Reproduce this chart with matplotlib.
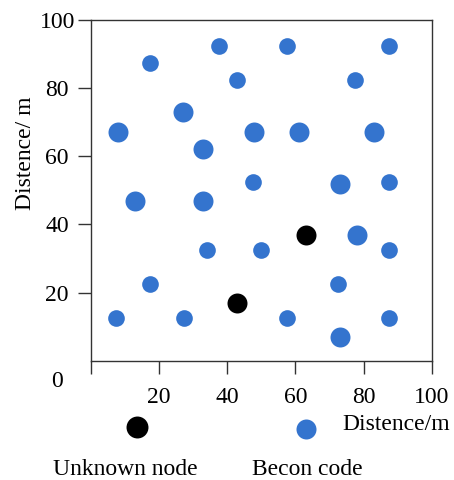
import matplotlib
matplotlib.use("Agg")
import matplotlib.pyplot as plt
from matplotlib.lines import Line2D

plt.rcParams['font.family'] = ['Liberation Serif', 'DejaVu Serif']
plt.rcParams['font.size'] = 17

# 信标节点（小）
beacon_small_x = [37.5, 57.5, 87.5, 17.5, 43, 77.5, 47.5, 87.5, 34, 50, 87.5, 17.5, 72.5, 7.5, 27.5, 57.5, 87.5]
beacon_small_y = [92.5, 92.5, 92.5, 87.5, 82.5, 82.5, 52.5, 52.5, 32.5, 32.5, 32.5, 22.5, 22.5, 12.5, 12.5, 12.5, 12.5]
# 信标节点（大）
beacon_large_x = [27, 8, 48, 61, 83, 33, 73, 13, 33, 78, 73]
beacon_large_y = [73, 67, 67, 67, 67, 62, 52, 47, 47, 37, 7]
# 未知节点
unknown_x = [63, 43]
unknown_y = [37, 17]

x_ticks = [0, 20, 40, 60, 80, 100]
y_ticks = [20, 40, 60, 80, 100]

blue = "#3474CE"
axis_color = "#333333"

fig = plt.figure(figsize=(4.54, 4.8), dpi=100)
ax = fig.add_axes([0.1998, 0.2485, 0.7511, 0.7098])

ax.scatter(beacon_small_x, beacon_small_y, s=144, color=blue, linewidths=0, zorder=3)
ax.scatter(beacon_large_x, beacon_large_y, s=207, color=blue, linewidths=0, zorder=3)
ax.scatter(unknown_x, unknown_y, s=207, color="black", linewidths=0, zorder=3)

ax.set_xlim(0, 100)
ax.set_ylim(0, 100)

# 軸の設定
for sp in ax.spines.values():
    sp.set_color(axis_color)
    sp.set_linewidth(1.0)

ax.set_xticks(x_ticks)
ax.set_xticklabels(["" if t == 0 else str(t) for t in x_ticks])
ax.set_yticks(y_ticks)
ax.set_yticklabels([str(t) for t in y_ticks])
ax.tick_params(axis='x', direction='out', length=9, width=1.0, color=axis_color, pad=10)
ax.tick_params(axis='y', direction='out', length=9.5, width=1.0, color=axis_color, pad=14.6)
for lab in ax.get_yticklabels():
    lab.set_horizontalalignment('center')

# 原点の "0"
ax.text(-0.1, -0.06, "0", transform=ax.transAxes, ha='center', va='center')

ax.set_xlabel("Distence/m", ha='left', va='baseline')
ax.xaxis.set_label_coords(0.737, -0.203)
ax.set_ylabel("Distence/ m", va='center', ha='center')
ax.yaxis.set_label_coords(-0.19, 0.61)

# 凡例（手動）
fig.add_artist(Line2D([0.3024], [0.1104], marker='o', markersize=15.8, color='black',
                      markeredgewidth=0, linestyle='none', transform=fig.transFigure))
fig.add_artist(Line2D([0.6733], [0.1063], marker='o', markersize=14.4, color=blue,
                      markeredgewidth=0, linestyle='none', transform=fig.transFigure))
fig.text(0.2764, 0.0104, "Unknown node", ha='center', va='baseline')
fig.text(0.677, 0.0104, "Becon code", ha='center', va='baseline')

fig.savefig("out.png", dpi=100)
